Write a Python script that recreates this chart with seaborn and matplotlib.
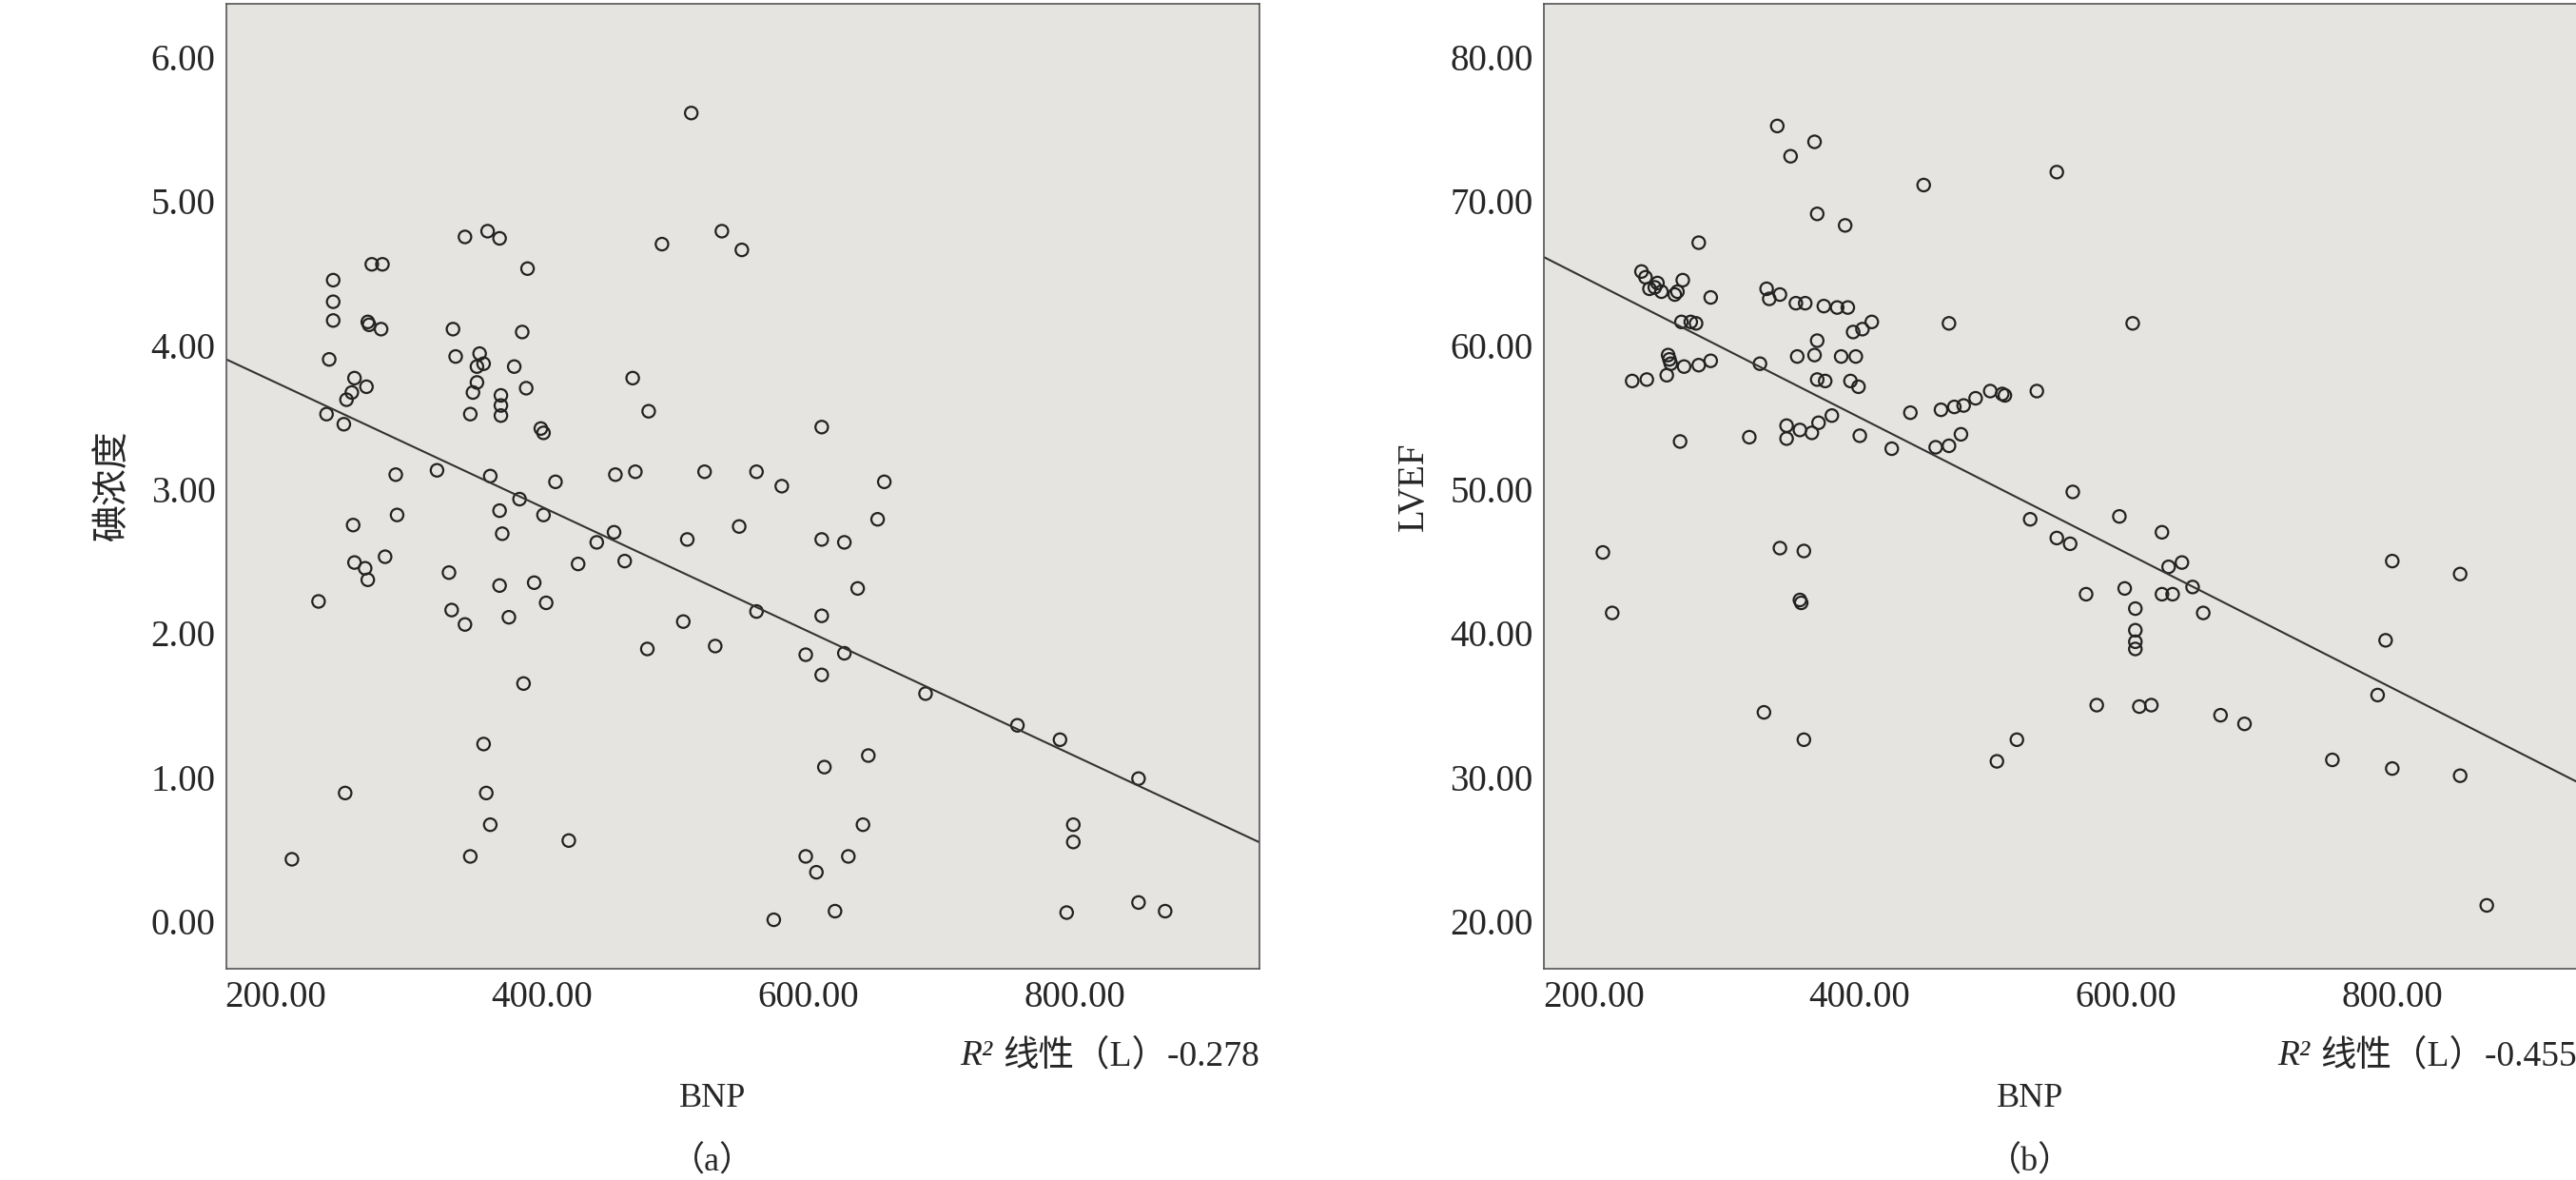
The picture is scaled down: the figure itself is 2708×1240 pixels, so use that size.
import numpy as np
import pandas as pd
import matplotlib
matplotlib.use("Agg")
import matplotlib.pyplot as plt
import seaborn as sns

# panel (a): BNP vs iodine concentration
bnp_a = [212, 232, 240, 243, 243, 243, 238, 251, 253, 257, 252, 259, 258, 259, 267, 269, 268, 269, 270, 272,
         280, 279, 282, 290, 291, 321, 330, 332, 333, 335, 342, 342, 346, 348, 351, 351, 353, 356, 359, 361,
         356, 358, 361, 346, 368, 369, 369, 369, 368, 370, 368, 375, 379, 383, 385, 388, 389, 386, 394, 401,
         401, 403, 399, 410, 420, 427, 441, 454, 455, 462, 468, 470, 479, 480, 490, 509, 506, 512, 522, 535,
         530, 550, 548, 561, 561, 574, 580, 598, 598, 610, 610, 610, 610, 612, 606, 620, 627, 627, 630, 637,
         641, 645, 652, 657, 688, 757, 789, 794, 799, 799, 848, 848, 868]
conc_a = [0.43, 2.22, 3.90, 4.45, 4.30, 4.17, 3.52, 3.45, 3.62, 3.67, 0.89, 3.77, 2.75, 2.49, 2.45, 2.37, 3.71, 4.16, 4.14, 4.56,
          4.56, 4.11, 2.53, 3.10, 2.82, 3.13, 2.42, 2.16, 4.11, 3.92, 4.75, 2.06, 3.52, 3.67, 3.74, 3.85, 3.94, 3.87, 4.79, 3.09,
          1.23, 0.89, 0.67, 0.45, 4.74, 3.65, 3.58, 3.51, 2.85, 2.69, 2.33, 2.11, 3.85, 2.93, 4.09, 3.70, 4.53, 1.65, 2.35, 3.39,
          2.82, 2.21, 3.42, 3.05, 0.56, 2.48, 2.63, 2.70, 3.10, 2.50, 3.77, 3.12, 1.89, 3.54, 4.70, 2.65, 2.08, 5.61, 3.12, 4.79,
          1.91, 4.66, 2.74, 3.12, 2.15, 0.01, 3.02, 1.85, 0.45, 3.43, 2.65, 2.12, 1.71, 1.07, 0.34, 0.07, 2.63, 1.86, 0.45, 2.31,
          0.67, 1.15, 2.79, 3.05, 1.58, 1.36, 1.26, 0.06, 0.67, 0.55, 0.99, 0.13, 0.07]

# panel (b): BNP vs LVEF
bnp_b = [207, 214, 229, 236, 239, 240, 242, 246, 248, 251, 255, 256, 257, 258, 261, 263, 265, 266, 267, 268,
         273, 277, 279, 279, 288, 288, 317, 325, 328, 330, 332, 338, 340, 340, 345, 345, 348, 352, 353, 355,
         355, 356, 358, 358, 359, 364, 366, 366, 368, 368, 368, 369, 373, 374, 379, 383, 386, 389, 391, 393,
         395, 397, 399, 400, 402, 409, 424, 438, 448, 457, 461, 467, 467, 471, 476, 478, 487, 498, 507, 509,
         503, 518, 528, 533, 548, 548, 558, 560, 570, 578, 595, 599, 605, 607, 607, 607, 607, 610, 619, 627,
         627, 632, 635, 642, 650, 658, 671, 689, 755, 789, 795, 800, 800, 851, 851, 871]
lvef_b = [45.6, 41.4, 57.5, 65.1, 64.7, 57.6, 63.9, 64.0, 64.3, 63.7, 57.9, 59.3, 59.0, 58.7, 63.5, 63.7, 53.3, 61.6, 64.5, 58.5,
          61.6, 61.5, 67.1, 58.6, 63.3, 58.9, 53.6, 58.7, 34.5, 63.9, 63.2, 75.2, 63.5, 45.9, 54.4, 53.5, 73.1, 62.9, 59.2, 54.1,
          42.3, 42.1, 45.7, 32.6, 62.9, 53.9, 74.1, 59.3, 60.3, 69.1, 57.6, 54.6, 62.7, 57.5, 55.1, 62.6, 59.2, 68.3, 62.6, 57.5,
          60.9, 59.2, 57.1, 53.7, 61.1, 61.6, 52.8, 55.3, 71.1, 52.9, 55.5, 61.5, 53.0, 55.7, 53.8, 55.8, 56.3, 56.8, 56.6, 56.5,
          31.1, 32.6, 47.9, 56.8, 72.0, 46.6, 46.2, 49.8, 42.7, 35.0, 48.1, 43.1, 61.5, 41.7, 40.2, 39.4, 38.9, 34.9, 35.0, 47.0,
          42.7, 44.6, 42.7, 44.9, 43.2, 41.4, 34.3, 33.7, 31.2, 35.7, 39.5, 45.0, 30.6, 44.1, 30.1, 21.1]

panels = [
    dict(x=bnp_a, y=conc_a, ylabel="碘浓度", r2="-0.278", tag="（a）", ylim=(-0.33, 6.37),
         yticks=[0, 1, 2, 3, 4, 5, 6], left=0.088),
    dict(x=bnp_b, y=lvef_b, ylabel="LVEF", r2="-0.455", tag="（b）", ylim=(16.7, 83.7),
         yticks=[20, 30, 40, 50, 60, 70, 80], left=0.5995),
]

sns.set_style("white")
fam = ['Liberation Serif', 'Noto Sans CJK SC']
plt.rcParams['font.family'] = fam

fig = plt.figure(figsize=(27.08, 12.4), dpi=100)
xlim = (163, 939)

for p in panels:
    ax = fig.add_axes([p["left"], 0.179, 0.401, 0.818])
    ax.set_facecolor("#e6e4e0")
    df = pd.DataFrame({"x": p["x"], "y": p["y"]})
    sns.scatterplot(data=df, x="x", y="y", ax=ax, s=90, facecolor="none",
                    edgecolor="#222222", linewidth=1.6)
    # fit line
    k, b = np.polyfit(df["x"], df["y"], 1)
    xs = np.array(xlim)
    ax.plot(xs, k * xs + b, color="#333333", lw=1.5)
    ax.set_xlim(*xlim)
    ax.set_ylim(*p["ylim"])
    ax.set_xticks([200, 400, 600, 800])
    ax.set_xticklabels(["200.00", "400.00", "600.00", "800.00"])
    ax.set_yticks(p["yticks"])
    ax.set_yticklabels([f"{v:.2f}" for v in p["yticks"]])
    ax.tick_params(labelsize=28, length=5, color="#333333")
    for s in ax.spines.values():
        s.set_color("#555555")
        s.set_linewidth(1.2)
    ax.set_xlabel("")
    ax.set_ylabel(p["ylabel"], fontsize=28, labelpad=14)
    ax.text(0.47, -0.135, "BNP", transform=ax.transAxes, fontsize=26, ha="center", va="center")
    t = ax.text(1.0, -0.09, "线性（L）" + p["r2"], transform=ax.transAxes, fontsize=27,
                ha="right", va="center", family=fam)
    ax.annotate("R²", xy=(0, 0.5), xycoords=t, xytext=(-8, 0), textcoords="offset points",
                fontsize=27, style="italic", ha="right", va="center")
    ax.text(0.47, -0.2, p["tag"], transform=ax.transAxes, fontsize=26, ha="center", va="center",
            family=fam)

fig.savefig("out.png", dpi=100)
